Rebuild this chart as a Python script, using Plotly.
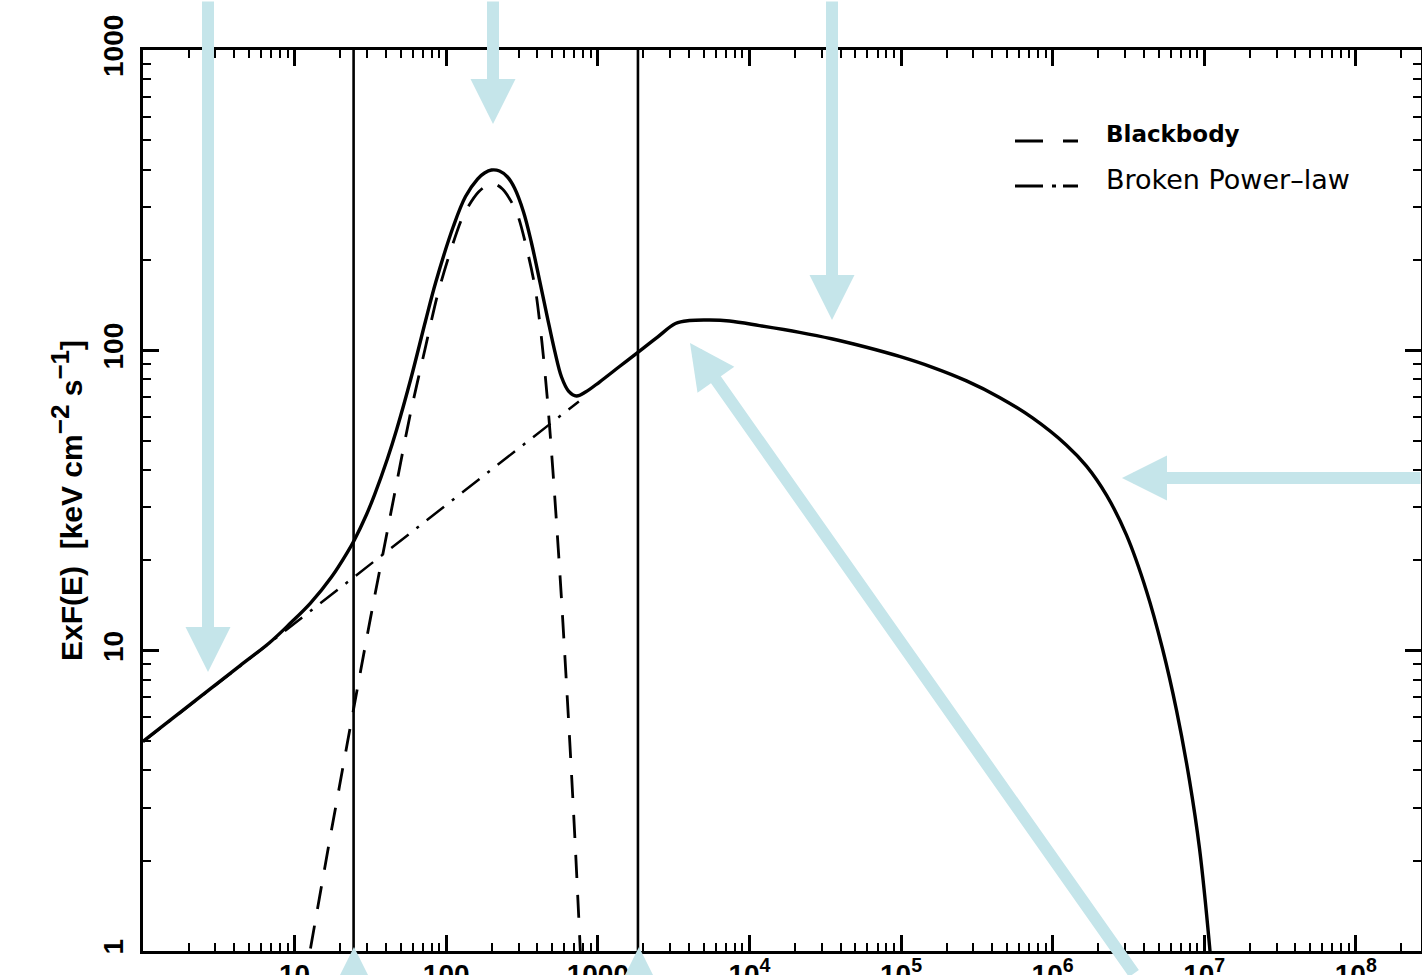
import plotly.graph_objects as go

# ---------------- data (E in keV, E*F(E) in keV cm^-2 s^-1) ----------------
total_E = [1, 2.026, 4.33, 6.83, 9.255, 12.73, 17.51, 22.34, 24.84, 29.81, 33.66, 41.01, 47.01,
           58.15, 73.03, 85.02, 111.7, 134.1, 160.9, 178.9, 199.0, 224.7, 253.8, 282.2, 323.6,
           365.3, 412.6, 465.9, 518.1, 576.3, 641.0, 723.7, 829.6, 1026, 1390, 1884, 2476, 3253,
           4026, 5456, 7390, 11660, 21410, 34800, 58320, 97750, 161400, 270400, 446400, 737100,
           1.235e6, 1.673e6, 2.267e6, 3.073e6, 4.164e6, 5.308e6, 6.567e6, 8.0e6, 9.311e6,
           1.084e7, 1.117e7]
total_F = [4.99, 6.59, 8.886, 10.63, 12.26, 14.40, 17.59, 21.30, 23.42, 28.41, 33.02, 43.65, 54.28,
           79.63, 125.2, 167.6, 259.4, 325.2, 371.9, 389.4, 398.5, 395.5, 377.7, 347.1, 288.8,
           227.7, 171.4, 128.1, 100.2, 81.5, 73.19, 70.43, 72.62, 78.43, 88.34, 99.47, 110.7, 122.8,
           125.7, 126.2, 125.2, 120.9, 114.8, 109.3, 102.6, 95.43, 87.78, 79.1, 69.7, 59.55,
           48.34, 41.16, 32.95, 24.24, 15.78, 10.15, 6.33, 3.693, 2.193,
           1.042, 0.864]

bb_E = [12.73, 15.05, 17.51, 19.78, 22.34, 24.84, 29.81, 33.66, 41.01, 45.6, 58.15, 73.03, 87.6,
        108.4, 130.1, 163.3, 199, 235.1, 290.9, 343.9, 388.2, 428.5, 462.4, 491.3, 519.6, 548.1,
        574.5, 602.1, 629.2, 656.6, 684.1, 711.6, 739.2, 766.7, 772]
bb_F = [1.02, 1.645, 2.527, 3.54, 4.96, 6.64, 10.93, 15.09, 25.2, 33.2, 61.8, 102.6, 152.8,
        219.1, 282.2, 336.6, 360.7, 344.5, 288.8, 212.5, 158.8, 105.8, 71.0, 48.4, 32.7, 21.96,
        15.2, 10.2, 6.95, 4.74, 3.23, 2.20, 1.48, 1.0, 0.9]

pl_E = [1, 10, 100, 750]
pl_F = [4.97, 12.3, 30.5, 67.6]

band_edges_E = [24.5, 1840]          # vertical lines

x_tick_vals = [10, 100, 1000, 1e4, 1e5, 1e6, 1e7, 1e8]
x_tick_text = ["10", "100", "1000", "10<sup>4</sup>", "10<sup>5</sup>", "10<sup>6</sup>",
               "10<sup>7</sup>", "10<sup>8</sup>"]
y_tick_vals = [1, 10, 100, 1000]
y_tick_text = ["1", "10", "100", "1000"]

legend_labels = ["<b>Blackbody</b>", "Broken Power\u2013law"]

# ---------------- figure ----------------
W, H = 1422, 975
ML, MR, MT, MB = 143, 1, 50, 24
PW, PH = W - ML - MR, H - MT - MB

def px(xp):
    return (xp - ML) / PW

def py(yp):
    return (H - MB - yp) / PH

fig = go.Figure()

fig.add_trace(go.Scatter(x=pl_E, y=pl_F, mode="lines", name="Broken Power-law",
                         line=dict(color="black", width=2.5, dash="22px,10px,3px,10px"),
                         showlegend=False))
fig.add_trace(go.Scatter(x=bb_E, y=bb_F, mode="lines", name="Blackbody",
                         line=dict(color="black", width=2.8, dash="23px,17px",
                                   shape="spline", smoothing=0.8),
                         showlegend=False))
fig.add_trace(go.Scatter(x=total_E, y=total_F, mode="lines", name="Total",
                         line=dict(color="black", width=3.4, shape="spline", smoothing=1.0),
                         showlegend=False))

for e in band_edges_E:
    fig.add_shape(type="line", xref="x", yref="paper", x0=e, x1=e, y0=0, y1=1,
                  line=dict(color="black", width=2.6), layer="above")

minor_vals = [m * 10 ** d for d in range(0, 9) for m in range(2, 10)]
minor_y = [m * 10 ** d for d in range(0, 3) for m in range(2, 10)]

tickfont = dict(family="Liberation Sans, Arial, sans-serif", size=28, color="black", weight="bold")
common = dict(showline=True, linewidth=3, linecolor="black", mirror="allticks",
              ticks="inside", ticklen=16, tickwidth=2.5, tickcolor="black",
              showgrid=False, zeroline=False, tickfont=tickfont, automargin=False)

fig.update_xaxes(type="log", range=[0, 8.43], tickmode="array", tickvals=x_tick_vals,
                 ticktext=x_tick_text, ticklabelstandoff=-4,
                 minor=dict(tickmode="array", tickvals=minor_vals, ticks="inside", ticklen=8,
                            tickwidth=2, tickcolor="black", showgrid=False),
                 **common)
sup_style = '<span style="font-size:26px">'
fig.update_yaxes(type="log", range=[0, 3], tickmode="array", tickvals=y_tick_vals,
                 ticktext=y_tick_text, tickangle=-90, ticklabelstandoff=6,
                 minor=dict(tickmode="array", tickvals=minor_y, ticks="inside", ticklen=8,
                            tickwidth=2, tickcolor="black", showgrid=False),
                 title=dict(text="ExF(E)\u00a0 [keV cm<sup>" + sup_style + "\u22122</span></sup> s<sup>"
                                 + sup_style + "\u22121</span></sup>]",
                            font=dict(family="Liberation Sans, Arial, sans-serif", size=30,
                                      color="black", weight="bold"),
                            standoff=7),
                 **common)

# manual legend
leg_y = [134, 179]
leg_dash = ["28px,20px,15px,60px", "28px,9px,4px,7px,15px,60px"]
for lab, yy, dsh, fnt in zip(legend_labels, leg_y, leg_dash,
                             [dict(family="DejaVu Sans", size=23, color="black"),
                              dict(family="DejaVu Sans", size=27, color="black")]):
    fig.add_shape(type="line", xref="paper", yref="paper", x0=px(1015), x1=px(1078),
                  y0=py(yy + 7), y1=py(yy + 7), line=dict(color="black", width=3, dash=dsh))
    fig.add_annotation(xref="paper", yref="paper", x=px(1104), y=py(yy), text=lab,
                       showarrow=False, xanchor="left", yanchor="middle", font=fnt)

# cyan arrows (tip pixel position, tail offset)
arrow_color = "#c5e5ea"
arrows = [((208, 672), (0, -700)), ((493, 124), (0, -150)), ((832, 320), (0, -340)),
          ((1122, 478), (330, 0)), ((690, 343), (445, 670)), ((354, 947), (0, 100)),
          ((639, 947), (0, 100))]
for (tx, ty), (ax, ay) in arrows:
    fig.add_annotation(xref="paper", yref="paper", x=px(tx), y=py(ty), text="",
                       showarrow=True, ax=ax, ay=ay, axref="pixel", ayref="pixel",
                       arrowhead=2, arrowsize=0.75, arrowwidth=12, arrowcolor=arrow_color,
                       standoff=0)

fig.update_layout(width=W, height=H, margin=dict(l=ML, r=MR, t=MT, b=MB, pad=0),
                  paper_bgcolor="white", plot_bgcolor="white", showlegend=False)

fig.write_html("out.html", config={"displayModeBar": False},
               post_script="document.body.style.margin='0';document.body.style.overflow='hidden';")
